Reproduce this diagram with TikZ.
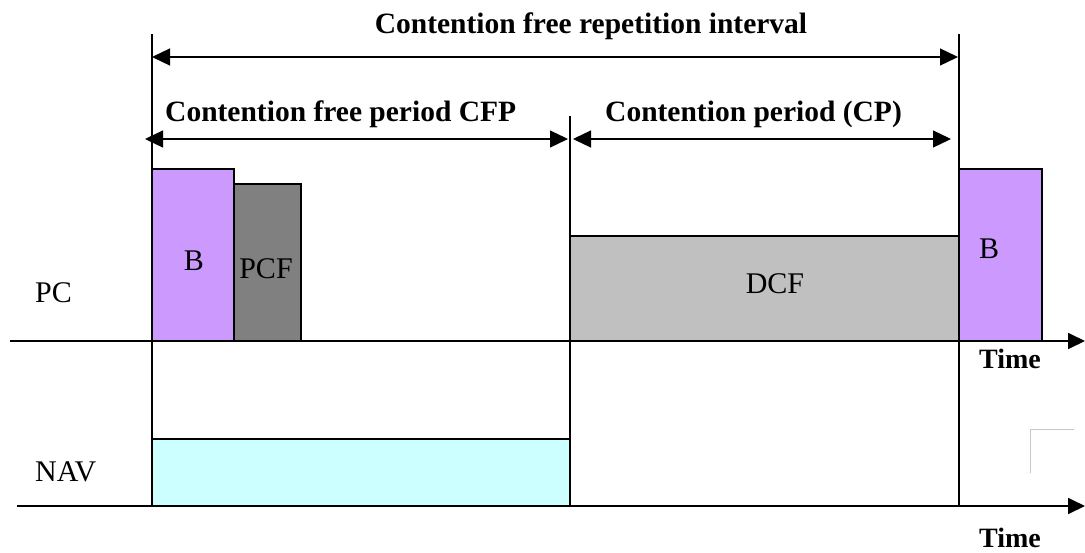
\documentclass[tikz,border=0pt]{standalone}
\usepackage{fontspec}
\setmainfont{Liberation Serif}
\usetikzlibrary{arrows.meta}

\definecolor{beaconpurple}{HTML}{CC99FF}
\definecolor{pcfgray}{HTML}{808080}
\definecolor{dcfgray}{HTML}{C0C0C0}
\definecolor{navcyan}{HTML}{CCFFFF}
\definecolor{markgray}{HTML}{C8C8C8}

\tikzset{
  dimline/.style={line width=1.3pt,
    {Triangle[length=18pt,width=17pt]}-{Triangle[length=18pt,width=17pt]}},
  axisline/.style={line width=1.8pt, -{Triangle[length=17pt,width=16pt]}},
  boundary/.style={line width=1.4pt},
  slot/.style={draw=black, line width=1.3pt, inner sep=0pt, outer sep=0pt,
    anchor=south west},
  heading/.style={font=\bfseries\fontsize{29.5}{30}\selectfont, inner sep=0pt, anchor=base},
  timelabel/.style={font=\bfseries\fontsize{28}{30}\selectfont, inner sep=0pt, anchor=base},
  plain/.style={font=\fontsize{30}{32}\selectfont, inner sep=0pt, anchor=base},
}

\begin{document}
\begin{tikzpicture}[x=1pt,y=-1pt]
\useasboundingbox[fill=white] (0,0) rectangle (1085,552);

% time slots on the PC line
\node[slot, fill=beaconpurple, minimum width=82pt, minimum height=172pt] (b1) at (152,341) {};
\node[slot, fill=pcfgray, minimum width=67pt, minimum height=157pt] (pcf) at (234,341) {};
\node[slot, fill=dcfgray, minimum width=389pt, minimum height=105pt] (dcf) at (570,341) {};
\node[slot, fill=beaconpurple, minimum width=83pt, minimum height=172pt] (b2) at (959,341) {};
% NAV set during the contention free period
\node[slot, fill=navcyan, minimum width=418pt, minimum height=67pt] (nav) at (152,506) {};

% period boundaries
\coordinate (L top) at (152,34);   \coordinate (L bot) at (152,506);
\coordinate (M top) at (570,116);  \coordinate (M bot) at (570,506);
\coordinate (R top) at (959,34);   \coordinate (R bot) at (959,506);
\draw[boundary] (L top) -- (L bot);
\draw[boundary] (M top) -- (M bot);
\draw[boundary] (R top) -- (R bot);

% time axes
\coordinate (pc start) at (10,341);  \coordinate (pc end) at (1085,341);
\coordinate (nav start) at (17,506); \coordinate (nav end) at (1085,506);
\draw[axisline] (pc start) -- (pc end);
\draw[axisline] (nav start) -- (nav end);

% interval dimensions
\coordinate (cfri a) at (152,57);  \coordinate (cfri b) at (958,57);
\coordinate (cfp a) at (145,139);  \coordinate (cfp b) at (568,139);
\coordinate (cp a) at (573,139);   \coordinate (cp b) at (951,139);
\draw[dimline] (cfri a) -- (cfri b);
\draw[dimline] (cfp a) -- (cfp b);
\draw[dimline] (cp a) -- (cp b);

% small corner mark
\coordinate (mk a) at (1030,473); \coordinate (mk b) at (1030,429); \coordinate (mk c) at (1074,429);
\draw[markgray, line width=1pt] (mk a) -- (mk b) -- (mk c);

% texts
\node[heading] (t cfri) at (591,33) {Contention free repetition interval};
\node[heading, anchor=base west] (t cfp) at (165,121) {Contention free period CFP};
\node[heading, anchor=base west] (t cp) at (605,121) {Contention period (CP)};

\node[plain, anchor=base west] (t pc) at (35,302) {PC};
\node[plain, anchor=base west] (t nav) at (35,481) {NAV};
\node[plain] (t b1) at (194,270) {B};
\node[plain] (t pcf) at (266,278) {PCF};
\node[plain] (t dcf) at (775,293) {DCF};
\node[plain] (t b2) at (989,258) {B};

\node[timelabel, anchor=base west] (t time1) at (979,368) {Time};
\node[timelabel, anchor=base west] (t time2) at (979,547) {Time};
\end{tikzpicture}
\end{document}
